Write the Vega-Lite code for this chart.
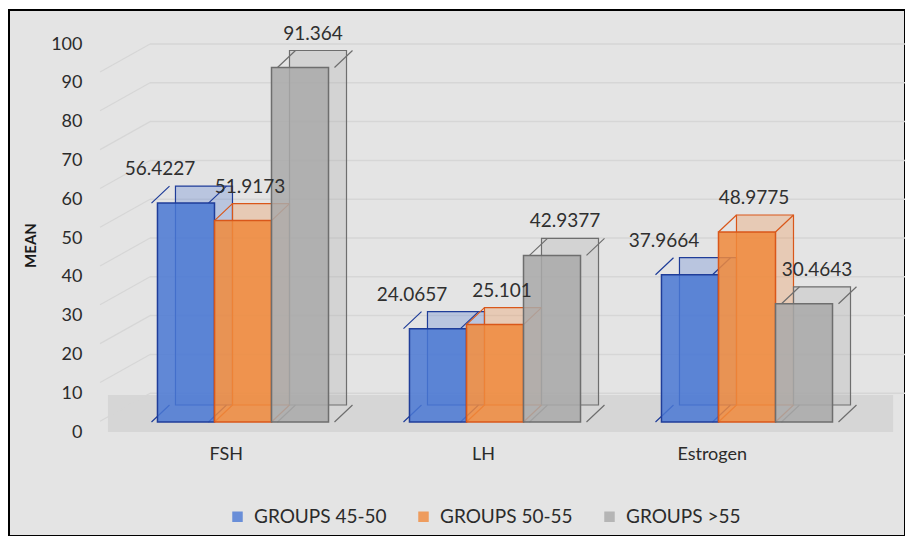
{
  "$schema": "https://vega.github.io/schema/vega-lite/v6.json",
  "width": 896,
  "height": 526,
  "autosize": {"type": "none"},
  "padding": {"left": 9, "top": 10, "right": 0, "bottom": 0},
  "background": "white",
  "config": {
    "view": {"fill": "#e4e4e4", "stroke": "#000000", "strokeWidth": 2},
    "font": "Lato",
    "axis": {"grid": false}
  },
  "datasets": {
    "means": [
      {"hormone": "FSH", "group": "GROUPS 45-50", "mean": 56.4227},
      {"hormone": "FSH", "group": "GROUPS 50-55", "mean": 51.9173},
      {"hormone": "FSH", "group": "GROUPS >55", "mean": 91.364},
      {"hormone": "LH", "group": "GROUPS 45-50", "mean": 24.0657},
      {"hormone": "LH", "group": "GROUPS 50-55", "mean": 25.101},
      {"hormone": "LH", "group": "GROUPS >55", "mean": 42.9377},
      {"hormone": "Estrogen", "group": "GROUPS 45-50", "mean": 37.9664},
      {"hormone": "Estrogen", "group": "GROUPS 50-55", "mean": 48.9775},
      {"hormone": "Estrogen", "group": "GROUPS >55", "mean": 30.4643}
    ],
    "ticks": [
      {"v": 10}, {"v": 20}, {"v": 30}, {"v": 40}, {"v": 50},
      {"v": 60}, {"v": 70}, {"v": 80}, {"v": 90}, {"v": 100}
    ]
  },
  "data": {"name": "means"},
  "resolve": {"scale": {"xOffset": "independent"}},
  "layer": [
    {
      "data": {"values": [{"part": "floor"}]},
      "mark": {"type": "rect", "fill": "#d6d6d6"},
      "encoding": {
        "x": {"datum": "FSH", "type": "nominal", "bandPosition": -0.036,
              "scale": {"domain": ["FSH", "LH", "Estrogen"], "range": [108, 864], "paddingInner": 0, "paddingOuter": 0}},
        "x2": {"datum": "Estrogen", "bandPosition": 1.08},
        "y": {"datum": -2.58, "type": "quantitative",
              "scale": {"domain": [-29.38, 106.19], "nice": false, "zero": false}},
        "y2": {"datum": 6.96}
      }
    },
    {
      "data": {"name": "ticks"},
      "mark": {"type": "point", "shape": "M-1,0.56L1,-0.56", "size": 2500, "filled": false, "stroke": "#d6d6d6", "strokeWidth": 1.2, "opacity": 1, "yOffset": 24},
      "encoding": {
        "x": {"datum": "FSH", "type": "nominal", "bandPosition": 0.032},
        "y": {"field": "v", "type": "quantitative", "title": "MEAN"}
      }
    },
    {
      "data": {"name": "ticks"},
      "mark": {"type": "rule", "stroke": "#d6d6d6", "strokeWidth": 1.5, "yOffset": 10},
      "encoding": {
        "x": {"datum": "FSH", "type": "nominal", "bandPosition": 0.131},
        "x2": {"datum": "Estrogen", "bandPosition": 1.13},
        "y": {"field": "v", "type": "quantitative", "title": "MEAN"}
      }
    },
    {
      "mark": {"type": "bar", "yOffset": -17, "y2Offset": -17, "fillOpacity": 0.28, "strokeWidth": 1.2},
      "encoding": {
        "x": {"field": "hormone", "type": "nominal", "title": null},
        "xOffset": {"field": "group", "type": "nominal", "scale": {"paddingInner": 0, "paddingOuter": 0.71, "align": 0.7222}},
        "y": {"field": "mean", "type": "quantitative", "title": "MEAN"},
        "color": {"field": "group", "type": "nominal",
                  "scale": {"domain": ["GROUPS 45-50", "GROUPS 50-55", "GROUPS >55"], "range": ["#4a78d4", "#f08a3c", "#a9a9a9"]}},
        "stroke": {"field": "group", "type": "nominal", "legend": null,
                   "scale": {"domain": ["GROUPS 45-50", "GROUPS 50-55", "GROUPS >55"], "range": ["#1f3d99", "#d9571a", "#6e6e6e"]}}
      }
    },
    {
      "mark": {"type": "point", "shape": "M-28.5,0L-10.5,-17M28.5,0L46.5,-17", "size": 4, "filled": false, "strokeWidth": 1.2, "opacity": 1},
      "encoding": {
        "x": {"field": "hormone", "type": "nominal", "title": null},
        "xOffset": {"field": "group", "type": "nominal", "scale": {"type": "point", "padding": 1.21}},
        "y": {"field": "mean", "type": "quantitative", "title": "MEAN"},
        "stroke": {"field": "group", "type": "nominal", "legend": null}
      }
    },
    {
      "mark": {"type": "point", "shape": "M-28.5,0L-10.5,-17M28.5,0L46.5,-17", "size": 4, "filled": false, "strokeWidth": 1.2, "opacity": 1},
      "encoding": {
        "x": {"field": "hormone", "type": "nominal", "title": null},
        "xOffset": {"field": "group", "type": "nominal", "scale": {"type": "point", "padding": 1.21}},
        "y": {"datum": 0, "type": "quantitative"},
        "stroke": {"field": "group", "type": "nominal", "legend": null}
      }
    },
    {
      "mark": {"type": "bar", "fillOpacity": 0.85, "strokeWidth": 1.5},
      "encoding": {
        "x": {"field": "hormone", "type": "nominal", "title": null,
              "axis": {"orient": "bottom", "offset": -82, "labelPadding": 0, "ticks": false, "domain": false,
                       "labelAngle": 0, "labelFont": "Lato", "labelFontSize": 18, "labelColor": "#2b2b2b"}},
        "xOffset": {"field": "group", "type": "nominal", "scale": {"paddingInner": 0, "paddingOuter": 0.71}},
        "y": {"field": "mean", "type": "quantitative", "title": "MEAN",
              "axis": {"values": [0, 10, 20, 30, 40, 50, 60, 70, 80, 90, 100], "offset": -73, "labelPadding": 0,
                       "ticks": false, "domain": false, "labelOffset": 10, "labelFont": "Lato", "labelFontSize": 18,
                       "labelColor": "#2b2b2b", "titleFont": "Lato", "titleFontSize": 15, "titleFontWeight": "bold",
                       "titleColor": "#1a1a1a", "titleX": -52, "titleY": 235, "titleAngle": 270,
                       "titleAlign": "center", "titleBaseline": "middle"}},
        "color": {"field": "group", "type": "nominal",
                  "legend": {"orient": "none", "legendX": 219, "legendY": 497, "direction": "horizontal", "title": null,
                             "symbolType": "square", "symbolSize": 110, "symbolStrokeWidth": 0, "symbolOpacity": 0.8,
                             "labelFont": "Lato", "labelFontSize": 19, "labelColor": "#2b2b2b",
                             "labelOffset": 7, "columnPadding": 27, "padding": 0}},
        "stroke": {"field": "group", "type": "nominal", "legend": null}
      }
    },
    {
      "transform": [{"filter": "datum.group === 'GROUPS 45-50'"}],
      "mark": {"type": "text", "font": "Lato", "fontSize": 19, "color": "#2f2f2f", "baseline": "middle", "dx": -20, "yOffset": -34},
      "encoding": {
        "x": {"field": "hormone", "type": "nominal", "title": null},
        "xOffset": {"field": "group", "type": "nominal", "scale": {"type": "point", "domain": ["GROUPS 45-50", "GROUPS 50-55", "GROUPS >55"], "padding": 1.21}},
        "y": {"field": "mean", "type": "quantitative", "title": "MEAN"},
        "text": {"field": "mean", "type": "nominal"}
      }
    },
    {
      "transform": [{"filter": "datum.group !== 'GROUPS 45-50'"}],
      "mark": {"type": "text", "font": "Lato", "fontSize": 19, "color": "#2f2f2f", "baseline": "middle", "dx": 7, "yOffset": -34},
      "encoding": {
        "x": {"field": "hormone", "type": "nominal", "title": null},
        "xOffset": {"field": "group", "type": "nominal", "scale": {"type": "point", "domain": ["GROUPS 45-50", "GROUPS 50-55", "GROUPS >55"], "padding": 1.21}},
        "y": {"field": "mean", "type": "quantitative", "title": "MEAN"},
        "text": {"field": "mean", "type": "nominal"}
      }
    }
  ]
}
